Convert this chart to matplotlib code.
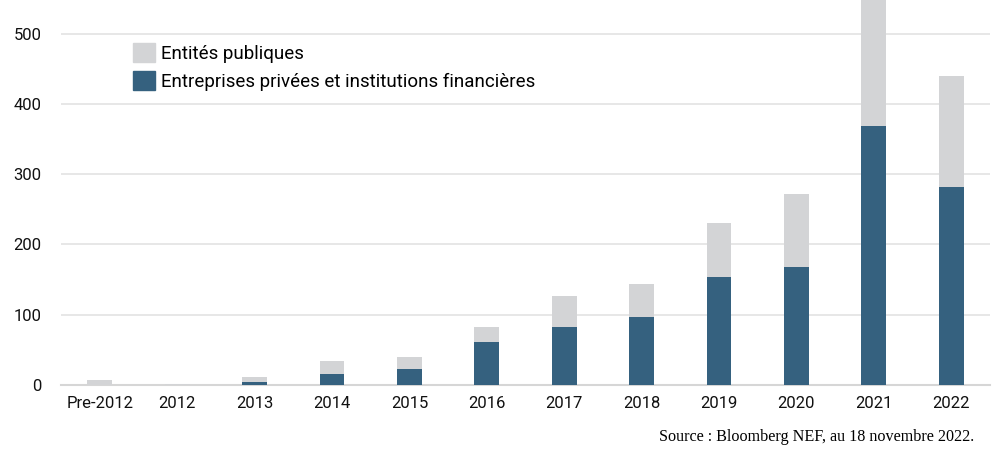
import numpy as np
import matplotlib.pyplot as plt
from matplotlib.patches import Patch

years = ['Pre-2012', '2012', '2013', '2014', '2015', '2016',
         '2017', '2018', '2019', '2020', '2021', '2022']
prive = [0, 0, 4, 16, 23, 61, 83, 97, 154, 168, 369, 282]
publique = [7, 2, 7, 18, 17, 22, 44, 47, 77, 104, 221, 158]

blue = '#35617F'
gray = '#D3D4D6'

plt.rcParams['font.family'] = ['Roboto', 'DejaVu Sans']

fig = plt.figure(figsize=(10.02, 4.55), dpi=100)
ax = fig.add_axes([0.061, 0.154, 0.927, 0.846])

x = np.arange(len(years))
w = 0.32
ax.bar(x, prive, w, color=blue, zorder=3)
ax.bar(x, publique, w, bottom=prive, color=gray, zorder=3)

ax.set_xlim(-0.5, 11.5)
ax.set_ylim(0, 548)
ax.set_yticks([0, 100, 200, 300, 400, 500])
ax.set_xticks(x)
ax.set_xticklabels(years)
ax.tick_params(length=0, labelsize=12, colors='#111111')
ax.tick_params(axis='x', pad=8)
ax.tick_params(axis='y', pad=14)
for lab in ax.get_yticklabels():
    lab.set_horizontalalignment('right')
ax.grid(axis='y', color='#E3E3E3', linewidth=1.2, zorder=0)
for s in ['top', 'right', 'left']:
    ax.spines[s].set_visible(False)
ax.spines['bottom'].set_color('#D6D6D6')
ax.spines['bottom'].set_linewidth(1.5)

handles = [Patch(color=gray, label='Entités publiques'),
           Patch(color=blue, label='Entreprises privées et institutions financières')]
ax.legend(handles=handles, loc='upper left', bbox_to_anchor=(0.0694, 0.908),
          frameon=False, fontsize=13.5, handlelength=1.17, handleheight=1.17,
          handletextpad=0.33, labelspacing=0.43, borderpad=0.4, borderaxespad=0)

fig.text(0.972, 0.022, 'Source : Bloomberg NEF, au 18 novembre 2022.',
         ha='right', va='bottom', fontsize=11.6, family='Liberation Serif')

fig.savefig('out.png', dpi=100)
